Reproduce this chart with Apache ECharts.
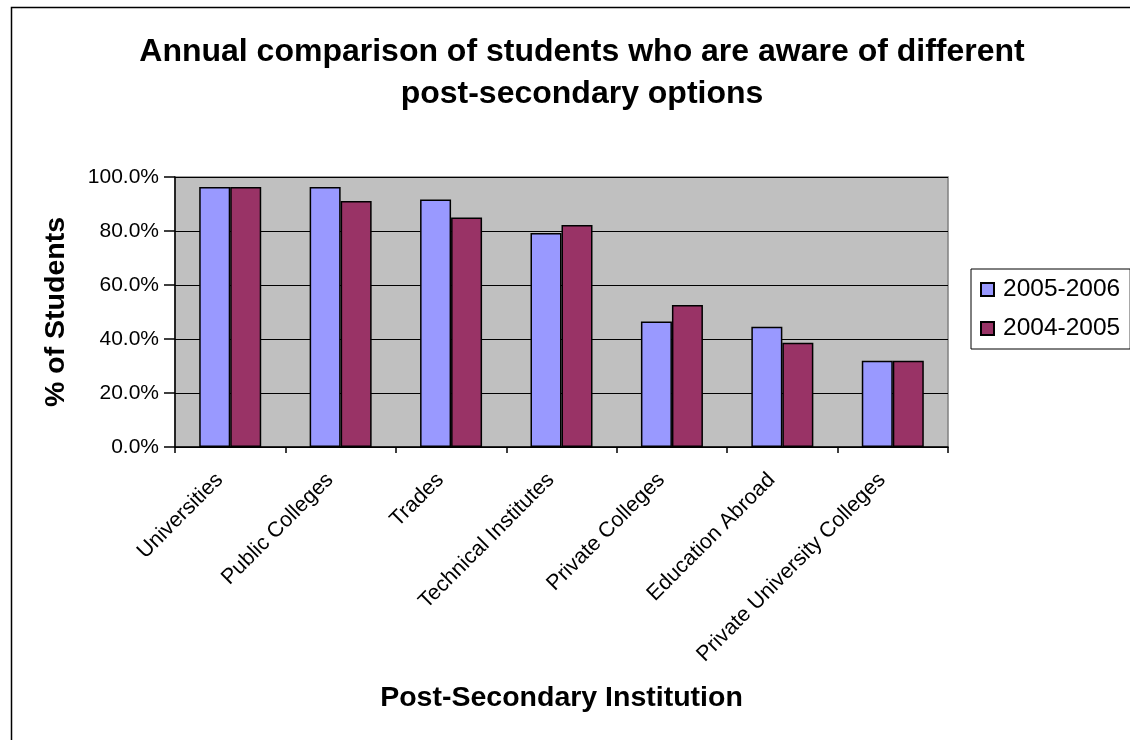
<!DOCTYPE html>
<html>
<head>
<meta charset="utf-8">
<script src="https://cdn.jsdelivr.net/npm/echarts@6/dist/echarts.min.js"></script>
<style>
  html, body { margin: 0; padding: 0; background: #fff; }
  #chart { width: 1130px; height: 740px; }
</style>
</head>
<body>
<div id="chart"></div>
<script>
const categories = [
  'Universities', 'Public Colleges', 'Trades', 'Technical Institutes',
  'Private Colleges', 'Education Abroad', 'Private University Colleges'
];
const seriesNames = ['2005-2006', '2004-2005'];
const values0506 = [96.3, 96.3, 91.7, 79.3, 46.5, 44.5, 31.9];
const values0405 = [96.3, 91.1, 85.0, 82.2, 52.6, 38.6, 31.9];
const yTicks = [0, 20, 40, 60, 80, 100];

const font = 'Arial, "Liberation Sans", sans-serif';
const chart = echarts.init(document.getElementById('chart'), null, { renderer: 'canvas' });

const barStyle = color => ({ color: color, borderColor: '#000', borderWidth: 1.5 });

chart.setOption({
  animation: false,
  backgroundColor: '#fff',
  textStyle: { fontFamily: font },
  graphic: [{
    // outer chart-area frame, cut off on the right and bottom
    type: 'rect',
    left: 9, top: 5,
    shape: { width: 1200, height: 800 },
    style: { fill: 'none', stroke: '#000', lineWidth: 1.5 },
    silent: true
  }],
  title: {
    text: 'Annual comparison of students who are aware of different\npost-secondary options',
    left: 577,
    top: 26,
    textAlign: 'center',
    textStyle: {
      fontFamily: font, fontSize: 32, fontWeight: 'bold', color: '#000', lineHeight: 42
    }
  },
  legend: {
    orient: 'vertical',
    left: 971,
    top: 269,
    width: 158,
    padding: [8, 10, 8, 9],
    itemGap: 14,
    itemWidth: 13,
    itemHeight: 13,
    icon: 'rect',
    borderColor: '#000',
    borderWidth: 1,
    backgroundColor: '#fff',
    textStyle: { fontFamily: font, fontSize: 24.5, color: '#000', padding: [0, 0, 0, 4] },
    data: seriesNames
  },
  grid: {
    left: 175, right: 182, top: 177, bottom: 293,
    show: true,
    backgroundColor: '#C0C0C0',
    borderColor: '#808080',
    borderWidth: 1.5
  },
  xAxis: {
    type: 'category',
    data: categories,
    name: 'Post-Secondary Institution',
    nameLocation: 'middle',
    nameGap: 237,
    nameTextStyle: { fontFamily: font, fontSize: 28.5, fontWeight: 'bold', color: '#000' },
    axisLine: { lineStyle: { color: '#000', width: 1.5 } },
    axisTick: { show: true, length: 6, lineStyle: { color: '#000', width: 1.5 } },
    axisLabel: {
      rotate: 45, margin: 19, padding: [0, 15, 0, 0],
      fontSize: 21.5, color: '#000', fontFamily: font, interval: 0
    }
  },
  yAxis: {
    type: 'value',
    min: yTicks[0],
    max: yTicks[yTicks.length - 1],
    interval: 20,
    name: '% of Students',
    nameLocation: 'middle',
    nameRotate: 90,
    nameGap: 104,
    nameTextStyle: { fontFamily: font, fontSize: 28.5, fontWeight: 'bold', color: '#000' },
    axisLine: { show: true, lineStyle: { color: '#000', width: 1.5 } },
    axisTick: { show: true, length: 11, lineStyle: { color: '#000', width: 1.5 } },
    axisLabel: {
      margin: 16, fontSize: 21, color: '#000', fontFamily: font,
      formatter: v => v.toFixed(1) + '%'
    },
    splitLine: { show: true, lineStyle: { color: '#000', width: 1.2 } }
  },
  series: [
    {
      name: seriesNames[0],
      type: 'bar',
      data: values0506,
      barWidth: 31,
      barGap: '0%',
      itemStyle: barStyle('#9999FF')
    },
    {
      name: seriesNames[1],
      type: 'bar',
      data: values0405,
      barWidth: 31,
      barGap: '0%',
      itemStyle: barStyle('#993366')
    }
  ]
});
</script>
</body>
</html>
